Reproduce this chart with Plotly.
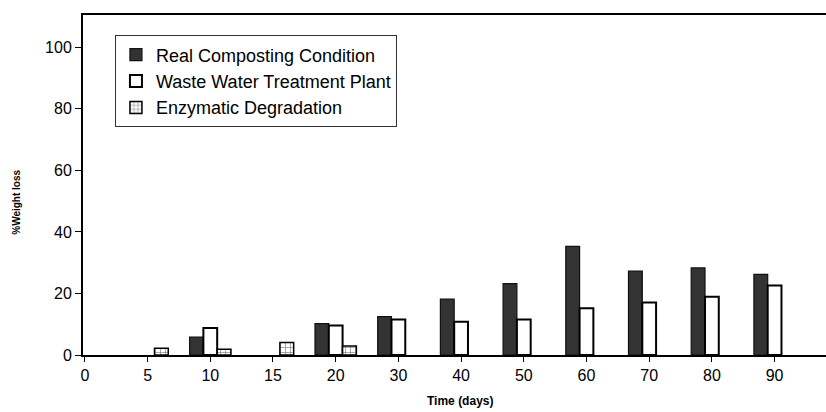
import plotly.graph_objects as go

days = ["0", "5", "10", "15", "20", "30", "40", "50", "60", "70", "80", "90"]
real_composting = [None, None, 5.8, None, 10.2, 12.5, 18.2, 23.2, 35.3, 27.3, 28.3, 26.2]
waste_water = [None, None, 8.8, None, 9.6, 11.5, 10.8, 11.5, 15.2, 17.1, 18.9, 22.6]
enzymatic = [None, 2.2, 1.9, 4.1, 2.9, None, None, None, None, None, None, None]

FONT = "Liberation Sans, Arial, sans-serif"

fig = go.Figure()
fig.add_trace(go.Bar(
    x=days, y=real_composting, name="Real Composting Condition",
    marker=dict(color="#333333", line=dict(color="#111111", width=1.2)),
))
fig.add_trace(go.Bar(
    x=days, y=waste_water, name="Waste Water Treatment Plant",
    marker=dict(color="white", line=dict(color="black", width=2)),
))
fig.add_trace(go.Bar(
    x=days, y=enzymatic, name="Enzymatic Degradation",
    marker=dict(color="white", line=dict(color="black", width=1.5),
                pattern=dict(shape="+", fgcolor="black", bgcolor="white",
                             size=5, solidity=0.25)),
))

fig.update_layout(
    width=826, height=412,
    margin=dict(l=83, r=0, t=15, b=57),
    barmode="group", bargap=0.34, bargroupgap=0,
    plot_bgcolor="white", paper_bgcolor="white",
    font=dict(family=FONT, color="black", size=16),
    showlegend=True,
    legend=dict(
        x=0.043, y=0.94, xanchor="left", yanchor="top",
        bgcolor="white", bordercolor="#333333", borderwidth=1,
        font=dict(size=18, family=FONT), tracegroupgap=0,
        itemwidth=30,
    ),
    xaxis=dict(
        type="category", range=[-0.03, 11.82],
        showline=True, linecolor="black", linewidth=2, mirror=True,
        ticks="outside", ticklen=5, tickcolor="black", tickwidth=1,
        tickfont=dict(size=16), showgrid=False, zeroline=False,
    ),
    yaxis=dict(
        range=[0, 110.5], tickvals=[0, 20, 40, 60, 80, 100],
        showline=True, linecolor="black", linewidth=2,
        ticks="outside", ticklen=6, tickcolor="black", tickwidth=1,
        tickfont=dict(size=16), showgrid=False, zeroline=False,
    ),
    annotations=[
        dict(text="<b>%Weight loss</b>", xref="paper", yref="paper",
             x=-83/743 + 17/743, y=(355.5 - 203) / 340.5, textangle=-90,
             showarrow=False, font=dict(size=10, family=FONT),
             xanchor="center", yanchor="middle"),
        dict(text="<b>Time (days)</b>", xref="paper", yref="paper",
             x=(460 - 83) / 743, y=-(402 - 355.5) / 340.5,
             showarrow=False, font=dict(size=12, family=FONT),
             xanchor="center", yanchor="middle"),
    ],
)

fig.write_html("out.html", config={"displayModeBar": False},
               post_script="document.body.style.margin='0px';document.body.style.padding='0px';")
